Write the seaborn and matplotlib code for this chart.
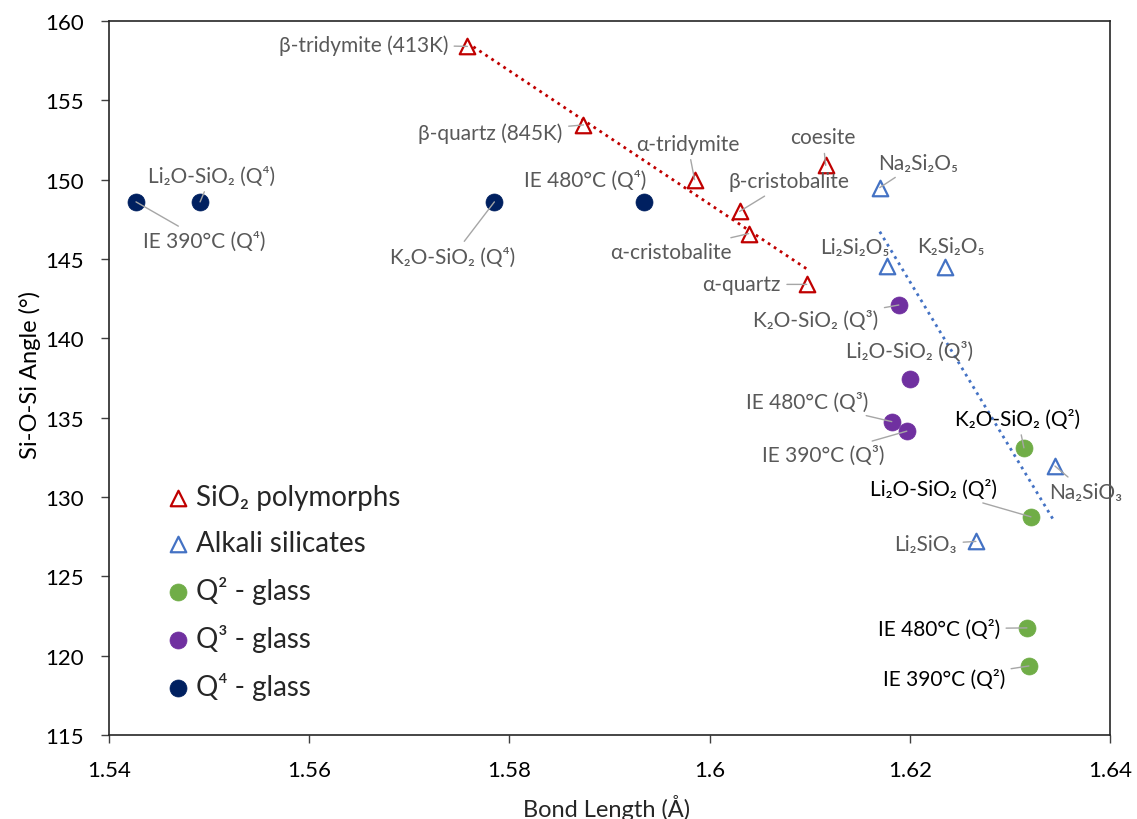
import numpy as np
import pandas as pd
import matplotlib
matplotlib.use("Agg")
import matplotlib.pyplot as plt
import seaborn as sns
from matplotlib.ticker import FuncFormatter

# --- data -------------------------------------------------------------
poly_names = ["β-tridymite (413K)", "β-quartz (845K)", "α-tridymite", "β-cristobalite",
              "α-cristobalite", "α-quartz", "coesite"]
poly_x = [1.5758, 1.5874, 1.5985, 1.6030, 1.6039, 1.6097, 1.6116]
poly_y = [158.4, 153.45, 150.0, 148.0, 146.6, 143.4, 150.9]
poly_in_fit = [True, True, True, True, True, True, False]

alk_names = ["Na₂Si₂O₅", "Li₂Si₂O₅", "K₂Si₂O₅", "Na₂SiO₃", "Li₂SiO₃"]
alk_x = [1.6170, 1.6177, 1.6235, 1.6345, 1.6266]
alk_y = [149.5, 144.55, 144.5, 131.95, 127.2]

q2_names = ["K₂O-SiO₂ (Q²)", "Li₂O-SiO₂ (Q²)", "IE 480°C (Q²)", "IE 390°C (Q²)"]
q2_x = [1.6314, 1.6321, 1.6317, 1.6319]
q2_y = [133.1, 128.75, 121.75, 119.35]

q3_names = ["K₂O-SiO₂ (Q³)", "Li₂O-SiO₂ (Q³)", "IE 480°C (Q³)", "IE 390°C (Q³)"]
q3_x = [1.6189, 1.6200, 1.6182, 1.6197]
q3_y = [142.1, 137.45, 134.75, 134.15]

q4_names = ["IE 390°C (Q⁴)", "Li₂O-SiO₂ (Q⁴)", "K₂O-SiO₂ (Q⁴)", "IE 480°C (Q⁴)"]
q4_x = [1.5427, 1.5491, 1.5785, 1.5934]
q4_y = [148.6, 148.6, 148.6, 148.6]

x_ticks = [1.54, 1.56, 1.58, 1.60, 1.62, 1.64]
y_ticks = [115, 120, 125, 130, 135, 140, 145, 150, 155, 160]

# --- label placement: offset of label centre from its point (pixels), leader line on/off
label_layout = {
    "β-tridymite (413K)": (-104, 2, True),
    "β-quartz (845K)": (-93, -8, True),
    "α-tridymite": (-7, 36, True),
    "β-cristobalite": (49, 30, True),
    "α-cristobalite": (-78, -18, True),
    "α-quartz": (-65, 0, True),
    "coesite": (-3, 28, True),
    "Na₂Si₂O₅": (38, 25, True),
    "Li₂Si₂O₅": (-32, 19, False),
    "K₂Si₂O₅": (6, 21, False),
    "Na₂SiO₃": (31, -26, True),
    "Li₂SiO₃": (-50, -3, True),
    "K₂O-SiO₂ (Q³)": (-83, -15, True),
    "Li₂O-SiO₂ (Q³)": (0, 28, False),
    "IE 480°C (Q³)": (-85, 20, True),
    "IE 390°C (Q³)": (-84, -24, True),
    "K₂O-SiO₂ (Q²)": (-6, 29, True),
    "Li₂O-SiO₂ (Q²)": (-97, 28, True),
    "IE 480°C (Q²)": (-88, -1, True),
    "IE 390°C (Q²)": (-85, -13, True),
    "Li₂O-SiO₂ (Q⁴)": (11, 26, True),
    "IE 390°C (Q⁴)": (68, -39, True),
    "K₂O-SiO₂ (Q⁴)": (-42, -55, True),
    "IE 480°C (Q⁴)": (-58, 22, False),
}

RED, BLUE, GREEN, PURPLE, NAVY = "#C00000", "#4472C4", "#70AD47", "#7030A0", "#002060"

sns.set_theme(style="white")
FONT = ["Lato", "Noto Sans", "DejaVu Sans"]
plt.rcParams["font.family"] = FONT

fig = plt.figure(figsize=(11.37, 8.20), dpi=100)
ax = fig.add_axes([109 / 1137, 1 - 736 / 820, (1110 - 109) / 1137, (736 - 22) / 820])

poly = pd.DataFrame({"x": poly_x, "y": poly_y, "name": poly_names, "fit": poly_in_fit})
alk = pd.DataFrame({"x": alk_x, "y": alk_y, "name": alk_names})
q2 = pd.DataFrame({"x": q2_x, "y": q2_y, "name": q2_names})
q3 = pd.DataFrame({"x": q3_x, "y": q3_y, "name": q3_names})
q4 = pd.DataFrame({"x": q4_x, "y": q4_y, "name": q4_names})

# linear trend lines
sns.regplot(data=poly[poly["fit"]], x="x", y="y", scatter=False, ci=None, ax=ax,
            line_kws=dict(color=RED, linestyle=(0, (1, 1.6)), lw=2.0, zorder=2))
sns.regplot(data=alk, x="x", y="y", scatter=False, ci=None, ax=ax,
            line_kws=dict(color=BLUE, linestyle=(0, (1, 1.6)), lw=2.0, zorder=2))

tri = 125
circ = 150
sns.scatterplot(data=poly, x="x", y="y", marker="^", s=tri, facecolor="white",
                edgecolor=RED, linewidth=1.6, ax=ax, zorder=4, label="SiO₂ polymorphs")
sns.scatterplot(data=alk, x="x", y="y", marker="^", s=tri, facecolor="white",
                edgecolor=BLUE, linewidth=1.6, ax=ax, zorder=4, label="Alkali silicates")
sns.scatterplot(data=q2, x="x", y="y", marker="o", s=circ, color=GREEN,
                edgecolor=GREEN, linewidth=0.5, ax=ax, zorder=4, label="Q² - glass")
sns.scatterplot(data=q3, x="x", y="y", marker="o", s=circ, color=PURPLE,
                edgecolor=PURPLE, linewidth=0.5, ax=ax, zorder=4, label="Q³ - glass")
sns.scatterplot(data=q4, x="x", y="y", marker="o", s=circ, color=NAVY,
                edgecolor=NAVY, linewidth=0.5, ax=ax, zorder=4, label="Q⁴ - glass")

# point labels with leader lines
def label_points(df, color):
    for _, r in df.iterrows():
        dx, dy, leader = label_layout[r["name"]]
        arrow = dict(arrowstyle="-", color="#A6A6A6", lw=1.0, shrinkA=2, shrinkB=0) if leader else None
        ax.annotate(r["name"], xy=(r["x"], r["y"]), xytext=(dx, dy), textcoords="offset pixels",
                    ha="center", va="center", fontsize=15, color=color,
                    family=FONT, arrowprops=arrow, zorder=5, annotation_clip=False)

label_points(poly, "#595959")
label_points(alk, "#595959")
label_points(q3, "#595959")
label_points(q4, "#595959")
label_points(q2, "#000000")

# axes
ax.set_xlim(1.54, 1.64)
ax.set_ylim(115, 160)
ax.set_xticks(x_ticks)
ax.set_yticks(y_ticks)
ax.xaxis.set_major_formatter(FuncFormatter(lambda v, p: f"{v:g}"))
ax.tick_params(axis="both", which="major", direction="out", length=6, width=1.0,
               color="#404040", labelsize=16, labelcolor="#000000", bottom=True, left=True)
ax.tick_params(axis="x", pad=12)
ax.tick_params(axis="y", pad=12)
for side in ["left", "bottom", "right", "top"]:
    ax.spines[side].set_visible(True)
    ax.spines[side].set_color("#262626")
    ax.spines[side].set_linewidth(1.2)
ax.set_xlabel("Bond Length (Å)", fontsize=17, color="#262626")
ax.set_ylabel("Si-O-Si Angle (°)", fontsize=17, color="#000000")
ax.xaxis.label.set_va("center")
ax.yaxis.label.set_va("center")
ax.xaxis.set_label_coords(0.4975, -0.1008)
ax.yaxis.set_label_coords(-0.079, 0.506)

ax.legend(loc="upper left", bbox_to_anchor=(0.044, 0.367), frameon=False,
          handletextpad=0.15, labelspacing=0.72, borderaxespad=0, borderpad=0.4,
          handlelength=1.0, prop={"family": FONT, "size": 20})

fig.savefig("out.png", dpi=100)
